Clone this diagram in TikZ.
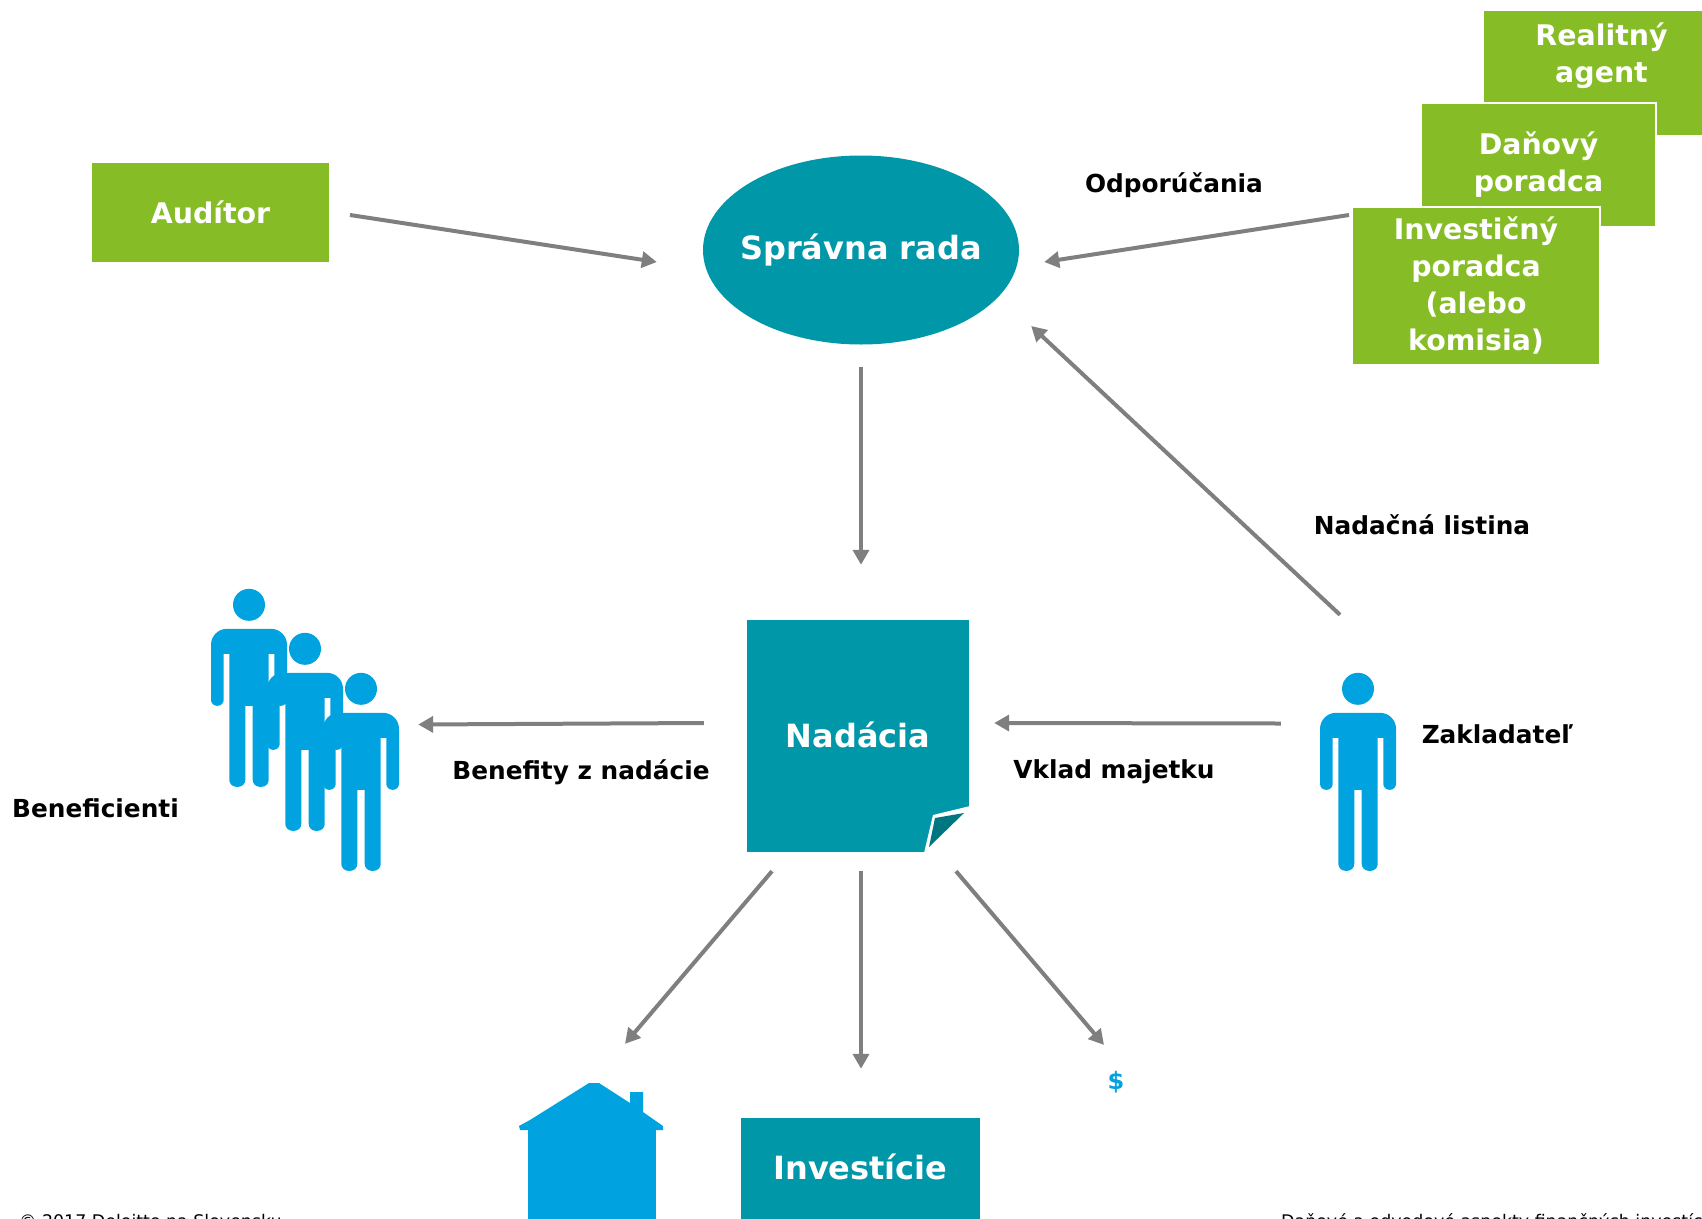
\documentclass[tikz,border=0pt]{standalone}
\usepackage{fontspec}
\setmainfont{DejaVu Sans}
\usetikzlibrary{shapes.geometric,arrows.meta}
\definecolor{zelena}{HTML}{86BC25}
\definecolor{tyrkys}{HTML}{0097A9}
\definecolor{tmavy}{HTML}{007680}
\definecolor{modra}{HTML}{00A3E0}
\definecolor{seda}{HTML}{7F7F7F}
\tikzset{
    flow/.style={draw=seda, line width=4pt, -{Triangle[length=15pt,width=16pt]}},
    greenbox/.style={rectangle, fill=zelena, draw=white, line width=2pt, inner sep=0pt, align=center,
        text=white, font=\fontsize{28.4}{37}\selectfont\bfseries},
    tealbox/.style={rectangle, fill=tyrkys, inner sep=0pt, text=white,
        font=\fontsize{32}{40}\selectfont\bfseries},
    caption/.style={inner sep=0pt, text=black, font=\fontsize{24.8}{32}\selectfont\bfseries},
    footer/.style={inner sep=0pt, anchor=base west, text=black, font=\fontsize{17.4}{22}\selectfont},
    personbox/.style={rectangle, minimum width=76pt, minimum height=199pt, inner sep=0pt},
    person/.pic={
        \fill[modra] (0,16) circle (16);
        \fill[modra] (0,40) [rounded corners=16pt] -- (-38,40) [rounded corners=6pt] -- (-38,117) -- (-25.3,117)
            [sharp corners] -- (-25.3,65) -- (-19.7,65) [rounded corners=7pt] -- (-19.7,198) -- (-3.7,198)
            [sharp corners] -- (-3.7,117) -- (3.7,117) [rounded corners=7pt] -- (3.7,198) -- (19.7,198)
            [sharp corners] -- (19.7,65) -- (25.3,65) [rounded corners=6pt] -- (25.3,117) -- (38,117)
            [rounded corners=16pt] -- (38,40) -- cycle;
    }
}
\begin{document}
\begin{tikzpicture}[x=1pt,y=-1pt]
    \useasboundingbox (0,0) rectangle (1702,1218);
    \clip (0,0) rectangle (1702,1218);

    \node[greenbox, draw=zelena, minimum width=235pt, minimum height=97pt] (auditor) at (210.5,212.5) {\raisebox{1pt}{Audítor}};
    %text je cez label, inak by ho elipsa natiahla
    \node[ellipse, fill=tyrkys, minimum width=316pt, minimum height=189pt, inner sep=0pt,
        label={[text=white, font=\fontsize{32}{40}\selectfont\bfseries]center:Správna rada}] (rada) at (861,250) {};

    %poradcovia sa prekryvaju, posledny je navrchu
    \node[greenbox, draw=zelena, minimum width=233pt, minimum height=122pt] (agent) at (1601.5,73) {Realitný\\agent\\[4pt]~};
    \node[greenbox, minimum width=235pt, minimum height=124pt] (danovy) at (1538.5,165) {Daňový\\poradca};
    \node[greenbox, minimum width=248pt, minimum height=158pt] (investicny) at (1476,286) {Investičný\\poradca\\(alebo\\komisia)};

    \node[tealbox, minimum width=222pt, minimum height=232pt] (nadacia) at (858,736) {\raisebox{2pt}{Nadácia}};
    %zahnuty roh
    \fill[white] (924,853) -- (933,815) -- (970,806) -- (970,853) -- cycle;
    \fill[tmavy] (935,818) -- (964,813) -- (929,847) -- cycle;

    \node[tealbox, minimum width=239pt, minimum height=140pt] (investicie) at (860.5,1188) {};
    \node[inner sep=0pt, text=white, font=\fontsize{32}{40}\selectfont\bfseries] at (860.5,1167) {Investície};

    \foreach \meno/\x/\y in {benef1/249/688.5, benef2/305/732.5, benef3/361/772.5, zakladatel/1358/772.5}{
        \node[personbox] (\meno) at (\x,\y) {};
        \pic at (\meno.north) {person};
    }

    %dom
    \node[rectangle, fill=modra, minimum width=128pt, minimum height=120pt, inner sep=0pt] (dom) at (592,1188) {};
    \fill[modra] (520,1130) -- (519,1126) -- (530,1120) -- (589,1083) -- (599,1083) -- (630,1103) -- (630,1092)
        -- (643,1092) -- (643,1112) -- (663,1126) -- (663,1130) -- cycle;
    \node[inner sep=0pt, text=modra, font=\fontsize{24}{28}\selectfont\bfseries] (dolar) at (1116,1082) {\$};

    \draw[flow] ([shift={(21,2.5)}]auditor.east) -- ([shift={(-46,12)}]rada.west);
    \draw[flow] ([shift={(-2,-71)}]investicny.west) -- ([shift={(25,12)}]rada.east);
    \draw[flow] ([shift={(0,22)}]rada.south) -- ([shift={(3,-55)}]nadacia.north);
    \draw[flow] ([shift={(-18,-58)}]zakladatel.north) -- ([shift={(12,76)}]rada.east);
    \draw[flow] ([shift={(-39,-49)}]zakladatel.west) -- ([shift={(25,-13)}]nadacia.east);
    \draw[flow] ([shift={(-43,-13)}]nadacia.west) -- ([shift={(19,-48)}]benef3.east);
    \draw[flow] ([shift={(-86,19)}]nadacia.south) -- ([shift={(33,-84)}]dom.north);
    \draw[flow] ([shift={(3,19)}]nadacia.south) -- ([shift={(0.5,-49)}]investicie.north);
    \draw[flow] ([shift={(98,19)}]nadacia.south) -- ([shift={(-12,-26)}]dolar.north);

    \node[caption] (odporucania) at (1174,185) {Odporúčania};
    \node[caption] (listina) at (1422,525) {Nadačná listina};
    \node[caption] (zakladatelpopis) at (1497.5,734) {Zakladateľ};
    \node[caption] (vklad) at (1114,772) {Vklad majetku};
    \node[caption] (benefity) at (581,772) {Benefity z nadácie};
    \node[caption] (beneficienti) at (95.5,808) {Beneficienti};

    \node[footer] (copyright) at (19,1227) {© 2017 Deloitte na Slovensku};
    \node[footer] (nazov) at (1281,1227) {Daňové a odvodové aspekty finančných investícií};
\end{tikzpicture}
\end{document}
